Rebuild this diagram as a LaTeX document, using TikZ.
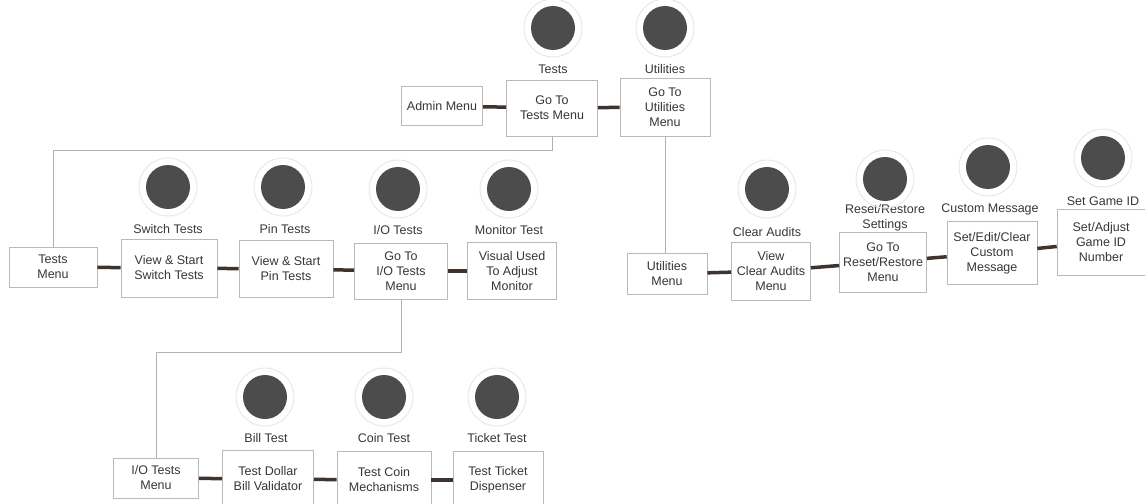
\documentclass[tikz,border=0pt]{standalone}
\usepackage{fontspec}
\setmainfont{Liberation Sans}
\definecolor{linkc}{RGB}{62,52,45}
\definecolor{textc}{RGB}{55,55,55}
\begin{document}
\begin{tikzpicture}[x=1pt, y=-1pt,
        font=\fontsize{12.5}{15}\selectfont,
        box/.style={draw=gray!55, line width=0.6pt, fill=white, align=center, text=textc, inner sep=2pt},
        lbl/.style={text=textc, align=center},
        btn/.style={circle, fill=black!70, minimum size=44pt, inner sep=0pt},
        ring/.style={draw=gray!18, line width=1pt},
        link/.style={draw=linkc, line width=3.5pt},
        tree/.style={draw=gray!60, line width=0.6pt}]
        \useasboundingbox (0,0) rectangle (1145,503);
        \clip (0,0) rectangle (1145,503);

        % Menu glowne
        \node[box, minimum width=81pt, minimum height=39pt] (admin) at (442,106) {Admin Menu};
        \node[box, minimum width=91pt, minimum height=56pt] (goTests) at (552,108) {Go To\\Tests Menu};
        \node[box, minimum width=90pt, minimum height=58pt] (goUtil) at (665,107) {Go To\\Utilities\\Menu};
        \node[lbl] (lTests) at (553,69) {Tests};
        \node[lbl] (lUtil) at (665,69) {Utilities};
        \node[btn] (bTests) at (553,28) {};
        \node[btn] (bUtil) at (665,28) {};

        % Testy
        \node[box, minimum width=88pt, minimum height=40pt] (testsMenu) at (53,267) {Tests\\Menu};
        \node[box, minimum width=96pt, minimum height=58pt] (switchT) at (169,268) {View \& Start\\Switch Tests};
        \node[box, minimum width=94pt, minimum height=57pt] (pinT) at (286,269) {View \& Start\\Pin Tests};
        \node[box, minimum width=93pt, minimum height=56pt] (ioT) at (401,271) {Go To\\I/O Tests\\Menu};
        \node[box, minimum width=89pt, minimum height=57pt] (monitorT) at (512,271) {Visual Used\\To Adjust\\Monitor};
        \node[lbl] (lSwitch) at (168,229) {Switch Tests};
        \node[lbl] (lPin) at (285,229) {Pin Tests};
        \node[lbl] (lIo) at (398,230) {I/O Tests};
        \node[lbl] (lMonitor) at (509,230) {Monitor Test};
        \node[btn] (bSwitch) at (168,187) {};
        \node[btn] (bPin) at (283,187) {};
        \node[btn] (bIo) at (398,189) {};
        \node[btn] (bMonitor) at (509,189) {};

        % Testy I/O
        \node[box, minimum width=85pt, minimum height=40pt] (ioMenu) at (156,478) {I/O Tests\\Menu};
        \node[box, minimum width=91pt, minimum height=58pt] (billT) at (268,479) {Test Dollar\\Bill Validator};
        \node[box, minimum width=94pt, minimum height=58pt] (coinT) at (384,480) {Test Coin\\Mechanisms};
        \node[box, minimum width=90pt, minimum height=58pt] (ticketT) at (498,480) {Test Ticket\\Dispenser};
        \node[lbl] (lBill) at (266,438) {Bill Test};
        \node[lbl] (lCoin) at (384,438) {Coin Test};
        \node[lbl] (lTicket) at (497,438) {Ticket Test};
        \node[btn] (bBill) at (265,397) {};
        \node[btn] (bCoin) at (384,397) {};
        \node[btn] (bTicket) at (497,397) {};

        % Narzedzia
        \node[box, minimum width=80pt, minimum height=41pt] (utilMenu) at (667,274) {Utilities\\Menu};
        \node[box, minimum width=79pt, minimum height=58pt] (clearA) at (771,271) {View\\Clear Audits\\Menu};
        \node[box, minimum width=87pt, minimum height=60pt] (resetR) at (883,262) {Go To\\Reset/Restore\\Menu};
        \node[box, minimum width=90pt, minimum height=63pt] (customM) at (992,253) {Set/Edit/Clear\\Custom\\Message};
        \node[box, minimum width=88pt, minimum height=66pt] (gameId) at (1101,242) {Set/Adjust\\Game ID\\Number};
        \node[lbl] (lClear) at (767,232) {Clear Audits};
        \node[lbl] (lReset) at (885,218) {Reset/Restore\\Settings};
        \node[lbl] (lCustom) at (990,209) {Custom Message};
        \node[lbl] (lGame) at (1103,201) {Set Game ID};
        \node[btn] (bClear) at (767,189) {};
        \node[btn] (bReset) at (885,179) {};
        \node[btn] (bCustom) at (988,167) {};
        \node[btn] (bGame) at (1103,158) {};

        % Obwodki przyciskow
        \foreach \b in {bTests,bUtil,bSwitch,bPin,bIo,bMonitor,bBill,bCoin,bTicket,bClear,bReset,bCustom,bGame}
            \draw[ring] (\b) circle (29pt);

        % Galezie
        \draw[tree] (goTests.south) -- ++(0,14) -| (testsMenu.north);
        \draw[tree] (goUtil.south) -- (goUtil.south |- utilMenu.north);
        \draw[tree] (ioT.south) -- ++(0,53) -| (ioMenu.north);

        % Polaczenia
        \draw[link] (admin) -- (goTests);
        \draw[link] (goTests) -- (goUtil);
        \draw[link] (testsMenu) -- (switchT);
        \draw[link] (switchT) -- (pinT);
        \draw[link] (pinT) -- (ioT);
        \draw[link] (ioT) -- (monitorT);
        \draw[link] (ioMenu) -- (billT);
        \draw[link] (billT) -- (coinT);
        \draw[link] (coinT) -- (ticketT);
        \draw[link] (utilMenu) -- (clearA);
        \draw[link] (clearA) -- (resetR);
        \draw[link] (resetR) -- (customM);
        \draw[link] (customM) -- (gameId);
    \end{tikzpicture}
\end{document}
